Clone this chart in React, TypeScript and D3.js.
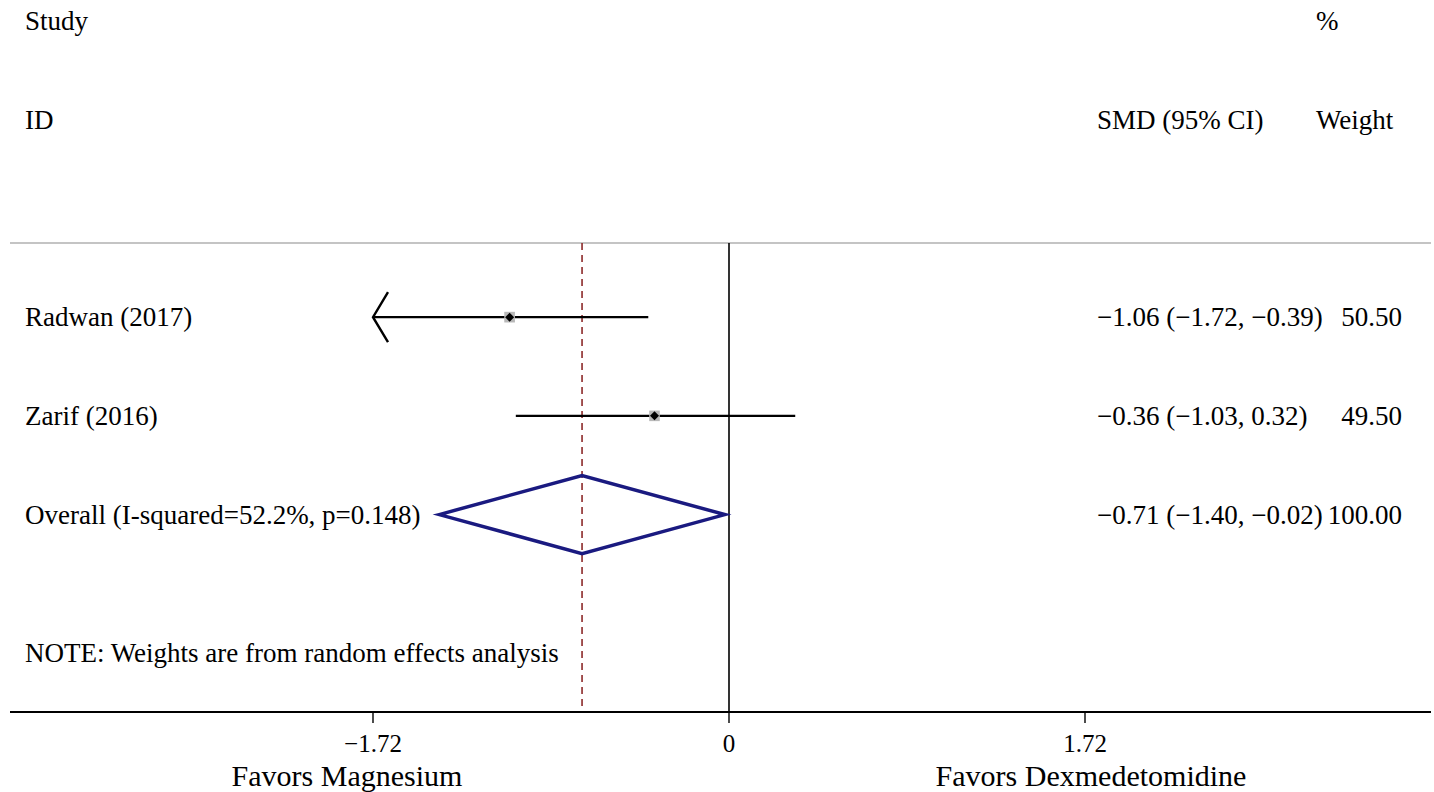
import { useMemo } from "react";
import * as d3 from "d3";

// study rows
const studies = ["Radwan (2017)", "Zarif (2016)"];
const estimates = [-1.06, -0.36];
const lowers = [-1.72, -1.03];
const uppers = [-0.39, 0.32];
const weights = [50.5, 49.5];

// pooled estimate
const overallLabel = "Overall (I-squared=52.2%, p=0.148)";
const overallEst = -0.71;
const overallLower = -1.4;
const overallUpper = -0.02;
const overallWeight = 100.0;

const xTicks = [-1.72, 0, 1.72];
const favorLabels = ["Favors Magnesium", "Favors Dexmedetomidine"];
const noteText = "NOTE: Weights are from random effects analysis";

const W = 1434;
const H = 792;
const FONT = "'Liberation Serif', 'Times New Roman', serif";

const fmt = d3.format(".2f");
const ciText = (e: number, l: number, u: number) =>
  `${fmt(e)} (${fmt(l)}, ${fmt(u)})`;

export default function App() {
  const x = useMemo(
    () => d3.scaleLinear().domain([-1.72, 1.72]).range([373, 1085]),
    []
  );
  // row index -> y (headers at -3/-2, studies 0.., axis at 4)
  const y = useMemo(() => d3.scaleLinear().domain([-3, 4]).range([21, 712]), []);
  const box = useMemo(() => d3.scaleSqrt().domain([0, 100]).range([0, 15]), []);

  const left = 10;
  const right = 1431;
  const topLine = y(-0.75);
  const axisY = y(4);
  const clipMin = xTicks[0];

  const diamond = (cx: number, cy: number, r: number) =>
    `M${cx - r},${cy}L${cx},${cy - r}L${cx + r},${cy}L${cx},${cy + r}Z`;

  const oy = y(2);
  const dh = 39;
  const overallPath = `M${x(overallLower)},${oy}L${x(overallEst)},${oy - dh}L${x(
    overallUpper
  )},${oy}L${x(overallEst)},${oy + dh}Z`;

  return (
    <div style={{ position: "absolute", left: 0, top: 0 }}>
      <svg width={W} height={H} style={{ display: "block", background: "#fff" }} fontFamily={FONT}>
        {/* headers */}
        <g fontSize={27} fill="#000">
          <text x={25} y={y(-3) + 9}>Study</text>
          <text x={25} y={y(-2) + 9}>ID</text>
          <text x={1316} y={y(-3) + 9}>%</text>
          <text x={1097} y={y(-2) + 9}>SMD (95% CI)</text>
          <text x={1316} y={y(-2) + 9}>Weight</text>
        </g>

        <line x1={left} x2={right} y1={topLine} y2={topLine} stroke="#c4c4c4" strokeWidth={2} />

        {/* reference lines */}
        <line x1={x(0)} x2={x(0)} y1={topLine} y2={axisY} stroke="#000" strokeWidth={1.6} />
        <line
          x1={x(overallEst)}
          x2={x(overallEst)}
          y1={topLine}
          y2={axisY}
          stroke="#8c2a2a"
          strokeWidth={1.6}
          strokeDasharray="7,5"
        />

        {/* study rows */}
        {studies.map((s, i) => {
          const cy = y(i);
          const clipped = lowers[i] <= clipMin;
          const x0 = x(Math.max(lowers[i], clipMin));
          const side = box(weights[i]);
          return (
            <g key={s}>
              <text x={25} y={cy + 9} fontSize={27}>{s}</text>
              <line x1={x0} x2={x(uppers[i])} y1={cy} y2={cy} stroke="#000" strokeWidth={2.2} />
              {clipped && (
                <path
                  d={`M${x0 + 15},${cy - 25}L${x0},${cy}L${x0 + 15},${cy + 25}`}
                  fill="none"
                  stroke="#000"
                  strokeWidth={2.4}
                />
              )}
              <rect
                x={x(estimates[i]) - side / 2}
                y={cy - side / 2}
                width={side}
                height={side}
                fill="#b8b8b8"
              />
              <path d={diamond(x(estimates[i]), cy, 4.5)} fill="#000" />
              <text x={1097} y={cy + 9} fontSize={27}>
                {ciText(estimates[i], lowers[i], uppers[i])}
              </text>
              <text x={1402} y={cy + 9} fontSize={27} textAnchor="end">
                {fmt(weights[i])}
              </text>
            </g>
          );
        })}

        {/* overall */}
        <text x={25} y={oy + 9} fontSize={27}>{overallLabel}</text>
        <path d={overallPath} fill="none" stroke="#1a1a80" strokeWidth={3.5} strokeLinejoin="miter" />
        <text x={1097} y={oy + 9} fontSize={27}>
          {ciText(overallEst, overallLower, overallUpper)}
        </text>
        <text x={1402} y={oy + 9} fontSize={27} textAnchor="end">
          {fmt(overallWeight)}
        </text>

        <text x={25} y={y(3.4) + 9} fontSize={27}>{noteText}</text>

        {/* x axis */}
        <line x1={left} x2={right} y1={axisY} y2={axisY} stroke="#000" strokeWidth={2} />
        {xTicks.map((t) => (
          <g key={t}>
            <line x1={x(t)} x2={x(t)} y1={axisY} y2={axisY + 11} stroke="#000" strokeWidth={1.4} />
            <text x={x(t)} y={axisY + 40} fontSize={25} textAnchor="middle">
              {t === 0 ? "0" : fmt(t)}
            </text>
          </g>
        ))}
        <text x={x(xTicks[0]) - 26} y={axisY + 74} fontSize={30} textAnchor="middle">
          {favorLabels[0]}
        </text>
        <text x={x(xTicks[2]) + 6} y={axisY + 74} fontSize={30} textAnchor="middle">
          {favorLabels[1]}
        </text>
      </svg>
    </div>
  );
}
